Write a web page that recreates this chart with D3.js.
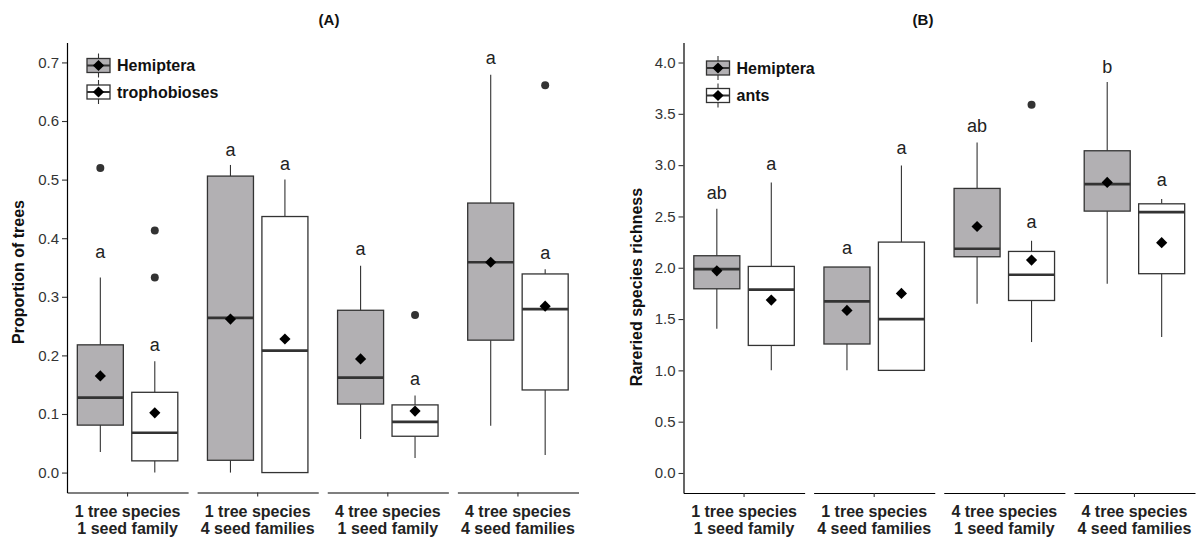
<!DOCTYPE html>
<html><head><meta charset="utf-8">
<script src="https://cdn.jsdelivr.net/npm/d3@7"></script>
<style>
body{margin:0;background:#fff;}
text{font-family:"Liberation Sans",Arial,Helvetica,sans-serif;}
</style>
</head><body>
<svg id="chart" width="1196" height="539"></svg>
<script>
// ---------------- DATA ----------------
const categories = [
  ["1 tree species", "1 seed family"],
  ["1 tree species", "4 seed families"],
  ["4 tree species", "1 seed family"],
  ["4 tree species", "4 seed families"]
];
const seriesA = ["Hemiptera", "trophobioses"];
const seriesB = ["Hemiptera", "ants"];

// box summaries: [lower whisker, Q1, median, Q3, upper whisker]
const hemipteraA = [
  [0.035, 0.081, 0.128, 0.218, 0.333],
  [0.000, 0.021, 0.264, 0.506, 0.525],
  [0.0575, 0.117, 0.162, 0.277, 0.353],
  [0.080, 0.226, 0.359, 0.460, 0.679]
];
const hemipteraAMean = [0.165, 0.262, 0.194, 0.359];
const hemipteraAOutliers = [[0.52], [], [], []];
const hemipteraALetters = ["a", "a", "a", "a"];
const hemipteraALetterY = [0.374, 0.549, 0.380, 0.706];

const trophobiosesA = [
  [0.000, 0.020, 0.068, 0.137, 0.190],
  [0.000, 0.000, 0.208, 0.437, 0.500],
  [0.025, 0.062, 0.0865, 0.1155, 0.1315],
  [0.030, 0.141, 0.279, 0.339, 0.347]
];
const trophobiosesAMean = [0.102, 0.228, 0.105, 0.284];
const trophobiosesAOutliers = [[0.333, 0.413], [], [0.269], [0.661]];
const trophobiosesALetters = ["a", "a", "a", "a"];
const trophobiosesALetterY = [0.215, 0.525, 0.157, 0.373];

const hemipteraB = [
  [1.406, 1.795, 1.987, 2.117, 2.575],
  [1.000, 1.257, 1.672, 2.007, 2.007],
  [1.649, 2.107, 2.185, 2.773, 3.221],
  [1.844, 2.552, 2.815, 3.140, 3.809]
];
const hemipteraBMean = [1.970, 1.584, 2.402, 2.831];
const hemipteraBOutliers = [[], [], [], []];
const hemipteraBLetters = ["ab", "a", "ab", "b"];
const hemipteraBLetterY = [2.72, 2.182, 3.367, 3.945];

const antsB = [
  [1.000, 1.243, 1.786, 2.013, 2.831],
  [1.000, 1.000, 1.500, 2.250, 2.997],
  [1.276, 1.681, 1.932, 2.159, 2.263],
  [1.325, 1.942, 2.543, 2.623, 2.669]
];
const antsBMean = [1.685, 1.750, 2.075, 2.244];
const antsBOutliers = [[], [], [3.588], []];
const antsBLetters = ["a", "a", "a", "a"];
const antsBLetterY = [2.997, 3.15, 2.429, 2.841];

const ticksA = [0, 0.1, 0.2, 0.3, 0.4, 0.5, 0.6, 0.7];
const ticksB = [0, 0.5, 1.0, 1.5, 2.0, 2.5, 3.0, 3.5, 4.0];

// ---------------- DRAW ----------------
const svg = d3.select("#chart");
const fills = ["#b2b0b3", "#ffffff"];
const stroke = "#333333";

function diamond(g, cx, cy, r) {
  g.append("path")
    .attr("d", `M${cx},${cy - r}L${cx + r},${cy}L${cx},${cy + r}L${cx - r},${cy}Z`)
    .attr("fill", "#000");
}

function drawPanel(cfg) {
  const g = svg.append("g");
  const y = d3.scaleLinear().domain(cfg.yDomain).range([cfg.yBottom, cfg.yTop]);
  const fx = d3.scaleBand().domain(d3.range(categories.length))
    .range([cfg.xLeft, cfg.xRight]).paddingInner(9 / 130).paddingOuter(0);
  const inner = d3.scaleBand().domain(cfg.series).range([0, fx.bandwidth()])
    .paddingInner(0).paddingOuter(0.112);
  const boxW = inner.bandwidth() * 0.845;

  // y axis
  const yAxis = g.append("g").attr("transform", `translate(${cfg.xLeft},0)`)
    .call(d3.axisLeft(y).tickValues(cfg.ticks).tickFormat(d3.format(".1f"))
      .tickSize(5).tickSizeOuter(0).tickPadding(3));
  yAxis.select(".domain").attr("stroke", "#000").attr("stroke-width", 1.2);
  yAxis.selectAll(".tick line").attr("stroke", "#333").attr("stroke-width", 1.1);
  yAxis.selectAll(".tick text").attr("font-size", 15).attr("fill", "#333")
    .style("font-family", '"Liberation Sans", Arial, sans-serif');

  // x axes per facet
  categories.forEach((cat, i) => {
    const xs = d3.scaleBand().domain([i]).range([fx(i), fx(i) + fx.bandwidth()]);
    const ax = g.append("g").attr("transform", `translate(0,${cfg.yBottom})`)
      .call(d3.axisBottom(xs).tickSize(4).tickSizeOuter(0).tickFormat(""));
    ax.select(".domain").attr("stroke", "#000").attr("stroke-width", 1.2);
    ax.selectAll(".tick line").attr("stroke", "#333").attr("stroke-width", 1.1);
    const t = g.append("text").attr("text-anchor", "middle")
      .attr("font-size", 16).attr("font-weight", "bold").attr("fill", "#222");
    cat.forEach((line, k) => {
      t.append("tspan").attr("x", fx(i) + fx.bandwidth() / 2)
        .attr("y", 517 + k * 16.6).text(line);
    });
  });

  // boxes
  cfg.data.forEach((sd, si) => {
    const sname = cfg.series[si];
    sd.stats.forEach((s, i) => {
      const cx = fx(i) + inner(sname) + inner.bandwidth() / 2;
      const x0 = cx - boxW / 2;
      // whiskers
      g.append("line").attr("x1", cx).attr("x2", cx)
        .attr("y1", y(s[3])).attr("y2", y(s[4]))
        .attr("stroke", stroke).attr("stroke-width", 1.1);
      g.append("line").attr("x1", cx).attr("x2", cx)
        .attr("y1", y(s[1])).attr("y2", y(s[0]))
        .attr("stroke", stroke).attr("stroke-width", 1.1);
      // box
      g.append("rect").attr("x", x0).attr("width", boxW)
        .attr("y", y(s[3])).attr("height", Math.max(0, y(s[1]) - y(s[3])))
        .attr("fill", fills[si]).attr("stroke", stroke).attr("stroke-width", 1.3);
      // median
      g.append("line").attr("x1", x0).attr("x2", x0 + boxW)
        .attr("y1", y(s[2])).attr("y2", y(s[2]))
        .attr("stroke", stroke).attr("stroke-width", 2.7);
      // outliers
      sd.outliers[i].forEach(o => {
        g.append("circle").attr("cx", cx).attr("cy", y(o)).attr("r", 4)
          .attr("fill", "#333");
      });
      // mean
      diamond(g, cx, y(sd.mean[i]), 5.6);
      // letter
      g.append("text").attr("x", cx).attr("y", y(sd.letterY[i]) + 4.7)
        .attr("text-anchor", "middle").attr("font-size", 18).attr("fill", "#222")
        .text(sd.letters[i]);
    });
  });

  // title
  g.append("text").attr("x", cfg.titleX).attr("y", 25).attr("text-anchor", "middle")
    .attr("font-size", 15).attr("font-weight", "bold").attr("fill", "#111")
    .text(cfg.title);

  // y label
  g.append("text").attr("transform", `translate(${cfg.yLabelX},${cfg.yLabelY}) rotate(-90)`)
    .attr("text-anchor", "middle").attr("font-size", 16).attr("font-weight", "bold")
    .attr("fill", "#111").text(cfg.yLabel);

  // legend
  cfg.series.forEach((name, si) => {
    const cy = cfg.legendY[si];
    const kx = cfg.legendX;
    g.append("line").attr("x1", kx + 11.5).attr("x2", kx + 11.5)
      .attr("y1", cy - 12).attr("y2", cy + 12)
      .attr("stroke", stroke).attr("stroke-width", 1.1);
    g.append("rect").attr("x", kx).attr("y", cy - 7).attr("width", 23).attr("height", 14)
      .attr("fill", fills[si]).attr("stroke", stroke).attr("stroke-width", 1.3);
    g.append("line").attr("x1", kx).attr("x2", kx + 23).attr("y1", cy).attr("y2", cy)
      .attr("stroke", stroke).attr("stroke-width", 2);
    diamond(g, kx + 11.5, cy, 5.6);
    g.append("text").attr("x", kx + 30).attr("y", cy + 5.8)
      .attr("font-size", 16).attr("font-weight", "bold").attr("fill", "#111")
      .text(name);
  });
}

drawPanel({
  series: seriesA,
  data: [
    {stats: hemipteraA, mean: hemipteraAMean, outliers: hemipteraAOutliers, letters: hemipteraALetters, letterY: hemipteraALetterY},
    {stats: trophobiosesA, mean: trophobiosesAMean, outliers: trophobiosesAOutliers, letters: trophobiosesALetters, letterY: trophobiosesALetterY}
  ],
  yDomain: [-0.034, 0.734], yTop: 42.5, yBottom: 492.5,
  xLeft: 67, xRight: 578.5, ticks: ticksA,
  title: "(A)", titleX: 329,
  yLabel: "Proportion of trees", yLabelX: 23.5, yLabelY: 272,
  legendX: 87, legendY: [65.5, 92]
});

drawPanel({
  series: seriesB,
  data: [
    {stats: hemipteraB, mean: hemipteraBMean, outliers: hemipteraBOutliers, letters: hemipteraBLetters, letterY: hemipteraBLetterY},
    {stats: antsB, mean: antsBMean, outliers: antsBOutliers, letters: antsBLetters, letterY: antsBLetterY}
  ],
  yDomain: [-0.195, 4.195], yTop: 42.5, yBottom: 493,
  xLeft: 683.5, xRight: 1195, ticks: ticksB,
  title: "(B)", titleX: 923,
  yLabel: "Rareried species richness", yLabelX: 641.5, yLabelY: 287,
  legendX: 706.5, legendY: [68, 95.5]
});
</script>
</body></html>
